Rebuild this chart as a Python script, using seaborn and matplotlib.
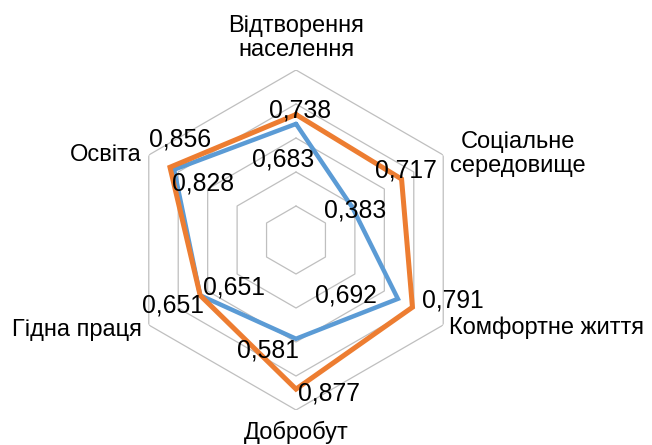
import numpy as np
import pandas as pd
import matplotlib
matplotlib.use("Agg")
import matplotlib.pyplot as plt
import seaborn as sns

# ---- data ----
categories = ["Відтворення\nнаселення", "Соціальне\nсередовище", "Комфортне життя",
              "Добробут", "Гідна праця", "Освіта"]
series_names = ["Ряд 1", "Ряд 2"]
values_blue = [0.683, 0.383, 0.692, 0.581, 0.651, 0.828]
values_orange = [0.738, 0.717, 0.791, 0.877, 0.651, 0.856]
grid_levels = [0.2, 0.4, 0.6, 0.8, 1.0]

# ---- style ----
colors = {"Ряд 1": "#5B9BD5", "Ряд 2": "#ED7D31"}
widths = {"Ряд 1": 3.2, "Ряд 2": 3.6}
# label offsets in pixels (dx, dy up)
off_blue = [(-13, -33.5), (3, -1), (-52, 6), (-28.5, -9), (34, 10), (28.5, -11)]
off_orange = [(4, 6.5), (4, 11), (40, 9), (33, -2), (-27.5, -8), (10, 30)]
cat_style = [  # (dx, dy, ha, va)
    (0, 9, "center", "bottom"),
    (7, 1, "left", "center"),
    (6, -3, "left", "center"),
    (0, -11, "center", "top"),
    (-7, -5, "right", "center"),
    (-7, 0, "right", "center"),
]

sns.set_style("white")
plt.rcParams["font.family"] = ["Liberation Sans", "DejaVu Sans"]

n = len(categories)
theta = np.linspace(0, 2 * np.pi, n, endpoint=False)
theta_closed = np.append(theta, 2 * np.pi)

rows = []
for name, vals in zip(series_names, [values_blue, values_orange]):
    vc = list(vals) + [vals[0]]
    for t, v in zip(theta_closed, vc):
        rows.append({"theta": t, "r": v, "series": name})
df = pd.DataFrame(rows)

fig = plt.figure(figsize=(6.52, 4.45), dpi=100)
ax = fig.add_axes([126 / 652, (445 - 410) / 445, 340 / 652, 340 / 445], projection="polar")
ax.set_theta_offset(np.pi / 2)
ax.set_theta_direction(-1)
ax.set_ylim(0, 1)
ax.set_xticks([])
ax.set_yticks([])
ax.grid(False)
ax.spines["polar"].set_visible(False)
ax.set_facecolor("white")

for lvl in grid_levels:
    ax.plot(theta_closed, [lvl] * len(theta_closed), color="#BFBFBF", lw=0.9, zorder=1)

sns.lineplot(data=df, x="theta", y="r", hue="series", hue_order=series_names,
             palette=colors, sort=False, estimator=None, errorbar=None,
             legend=False, ax=ax, zorder=3)
for line, name in zip(ax.get_lines()[len(grid_levels):], series_names):
    line.set_linewidth(widths[name])
    line.set_solid_joinstyle("miter")
ax.set_xlabel("")
ax.set_ylabel("")

for vals, offs in [(values_blue, off_blue), (values_orange, off_orange)]:
    for t, v, (dx, dy) in zip(theta, vals, offs):
        ax.annotate(f"{v:.3f}".replace(".", ","), xy=(t, v), xytext=(dx, dy),
                    textcoords="offset pixels", ha="center", va="center_baseline",
                    fontsize=17.8, color="black", zorder=5)

for t, lab, (dx, dy, ha, va) in zip(theta, categories, cat_style):
    ax.annotate(lab, xy=(t, 1.0), xytext=(dx, dy), textcoords="offset pixels",
                ha=ha, va=va, fontsize=17, color="black", multialignment="center",
                linespacing=1.12, annotation_clip=False)

fig.savefig("out.png", dpi=100)
